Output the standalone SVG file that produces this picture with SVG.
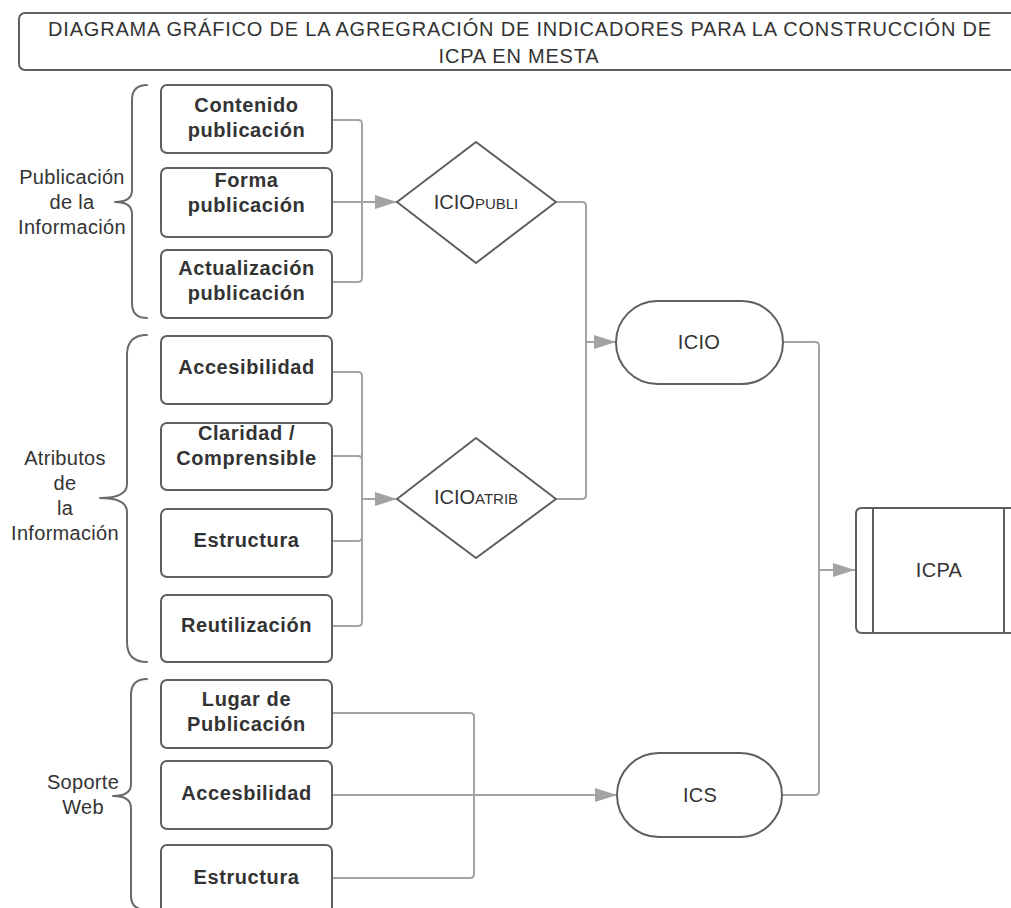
<svg xmlns="http://www.w3.org/2000/svg" width="1011" height="908" viewBox="0 0 1011 908">
<defs>
<style>
.box{fill:#fff;stroke:#5f5f5f;stroke-width:2}
.con{fill:none;stroke:#a3a3a3;stroke-width:2;stroke-linejoin:round}
.brace{fill:none;stroke:#6a6a6a;stroke-width:2;stroke-linecap:round;stroke-linejoin:round}
.b{font-family:"Liberation Sans",Arial,sans-serif;font-weight:bold;font-size:20px;letter-spacing:0.6px;fill:#333;text-anchor:middle}
.r{font-family:"Liberation Sans",Arial,sans-serif;font-size:20px;letter-spacing:0.3px;fill:#333;text-anchor:middle}
.t{font-family:"Liberation Sans",Arial,sans-serif;font-size:20px;letter-spacing:0.8px;fill:#333;text-anchor:middle}
</style>
<marker id="arr" markerUnits="userSpaceOnUse" markerWidth="24" markerHeight="16" refX="22" refY="7" orient="auto">
<path d="M0,0 L22,7 L0,14 z" fill="#a3a3a3"/>
</marker>
</defs>
<rect width="1011" height="908" fill="#fff"/>

<g id="title">
<rect class="box" x="19" y="13" width="1010" height="57" rx="6"/>
<text class="t" x="520" y="36">DIAGRAMA GRÁFICO DE LA AGREGRACIÓN DE INDICADORES PARA LA CONSTRUCCIÓN DE</text>
<text class="t" x="519" y="63">ICPA EN MESTA</text>
</g>

<g id="connectors">
<path class="con" d="M332,120 H358 Q362,120 362,124 V278 Q362,282 358,282 H332"/>
<path class="con" d="M332,202 H397" marker-end="url(#arr)"/>
<path class="con" d="M332,372 H358 Q362,372 362,376 V622 Q362,626 358,626 H332"/>
<path class="con" d="M332,456 H358 Q362,456 362,460"/>
<path class="con" d="M332,541 H358 Q362,541 362,537"/>
<path class="con" d="M362,499 H397" marker-end="url(#arr)"/>
<path class="con" d="M556,202 H582 Q586,202 586,206 V495 Q586,499 582,499 H556"/>
<path class="con" d="M586,342 H616" marker-end="url(#arr)"/>
<path class="con" d="M783,342 H815 Q819,342 819,346 V791 Q819,795 815,795 H782"/>
<path class="con" d="M819,570 H855" marker-end="url(#arr)"/>
<path class="con" d="M332,713 H470 Q474,713 474,717 V874 Q474,878 470,878 H332"/>
<path class="con" d="M332,795 H617" marker-end="url(#arr)"/>
</g>

<g id="brace-publicacion">
<path class="brace" d="M147,85 Q132,85 132,100 V190 Q132,202 115,202 Q132,202 132,214 V303 Q132,318 147,318"/>
<text class="r" x="72" y="184">Publicación</text>
<text class="r" x="72" y="209">de la</text>
<text class="r" x="72" y="234">Información</text>
</g>
<g id="brace-atributos">
<path class="brace" d="M147,335 Q127,335 127,355 V484 Q127,498 100,498 Q127,498 127,512 V642 Q127,662 147,662"/>
<text class="r" x="65" y="465">Atributos</text>
<text class="r" x="65" y="490">de</text>
<text class="r" x="65" y="515">la</text>
<text class="r" x="65" y="540">Información</text>
</g>
<g id="brace-soporte">
<path class="brace" d="M147,679 Q131,679 131,695 V784 Q131,796 113,796 Q131,796 131,808 V896 Q131,910 147,910"/>
<text class="r" x="83" y="789">Soporte</text>
<text class="r" x="83" y="814">Web</text>
</g>

<g id="n-contenido"><rect class="box" x="161" y="85" width="171" height="68" rx="6"/><text class="b" x="246.5" y="112">Contenido</text><text class="b" x="246.5" y="137">publicación</text></g>
<g id="n-forma"><rect class="box" x="161" y="168" width="171" height="69" rx="6"/><text class="b" x="246.5" y="187">Forma</text><text class="b" x="246.5" y="212">publicación</text></g>
<g id="n-actualizacion"><rect class="box" x="161" y="250" width="171" height="68" rx="6"/><text class="b" x="246.5" y="275">Actualización</text><text class="b" x="246.5" y="300">publicación</text></g>

<g id="n-accesibilidad"><rect class="box" x="161" y="336" width="171" height="68" rx="6"/><text class="b" x="246.5" y="374">Accesibilidad</text></g>
<g id="n-claridad"><rect class="box" x="161" y="423" width="171" height="67" rx="6"/><text class="b" x="246.5" y="440">Claridad /</text><text class="b" x="246.5" y="465">Comprensible</text></g>
<g id="n-estructura1"><rect class="box" x="161" y="509" width="171" height="68" rx="6"/><text class="b" x="246.5" y="547">Estructura</text></g>
<g id="n-reutilizacion"><rect class="box" x="161" y="595" width="171" height="67" rx="6"/><text class="b" x="246.5" y="632">Reutilización</text></g>

<g id="n-lugar"><rect class="box" x="161" y="680" width="171" height="68" rx="6"/><text class="b" x="246.5" y="706">Lugar de</text><text class="b" x="246.5" y="731">Publicación</text></g>
<g id="n-accesbilidad"><rect class="box" x="161" y="761" width="171" height="68" rx="6"/><text class="b" x="246.5" y="800">Accesbilidad</text></g>
<g id="n-estructura2"><rect class="box" x="161" y="845" width="171" height="68" rx="6"/><text class="b" x="246.5" y="884">Estructura</text></g>

<g id="n-iciopubli"><polygon class="box" stroke-linejoin="round" points="397,202 476,142 556,202 476,263"/><text class="r" x="476" y="209" style="letter-spacing:0">ICIO<tspan font-size="15">PUBLI</tspan></text></g>
<g id="n-icioatrib"><polygon class="box" stroke-linejoin="round" points="397,499 476,438 556,499 476,558"/><text class="r" x="476" y="504" style="letter-spacing:0">ICIO<tspan font-size="15">ATRIB</tspan></text></g>

<g id="n-icio"><rect class="box" x="616" y="301" width="167" height="83" rx="41.5"/><text class="r" x="699" y="349">ICIO</text></g>
<g id="n-ics"><rect class="box" x="617" y="753" width="165" height="84" rx="42"/><text class="r" x="700" y="802">ICS</text></g>
<g id="n-icpa"><path class="box" d="M1020,508 H862 Q856,508 856,514 V627 Q856,633 862,633 H1020 Z"/><line class="box" x1="873" y1="508" x2="873" y2="633"/><line class="box" x1="1004" y1="508" x2="1004" y2="633"/><text class="r" x="939" y="577">ICPA</text></g>
</svg>
